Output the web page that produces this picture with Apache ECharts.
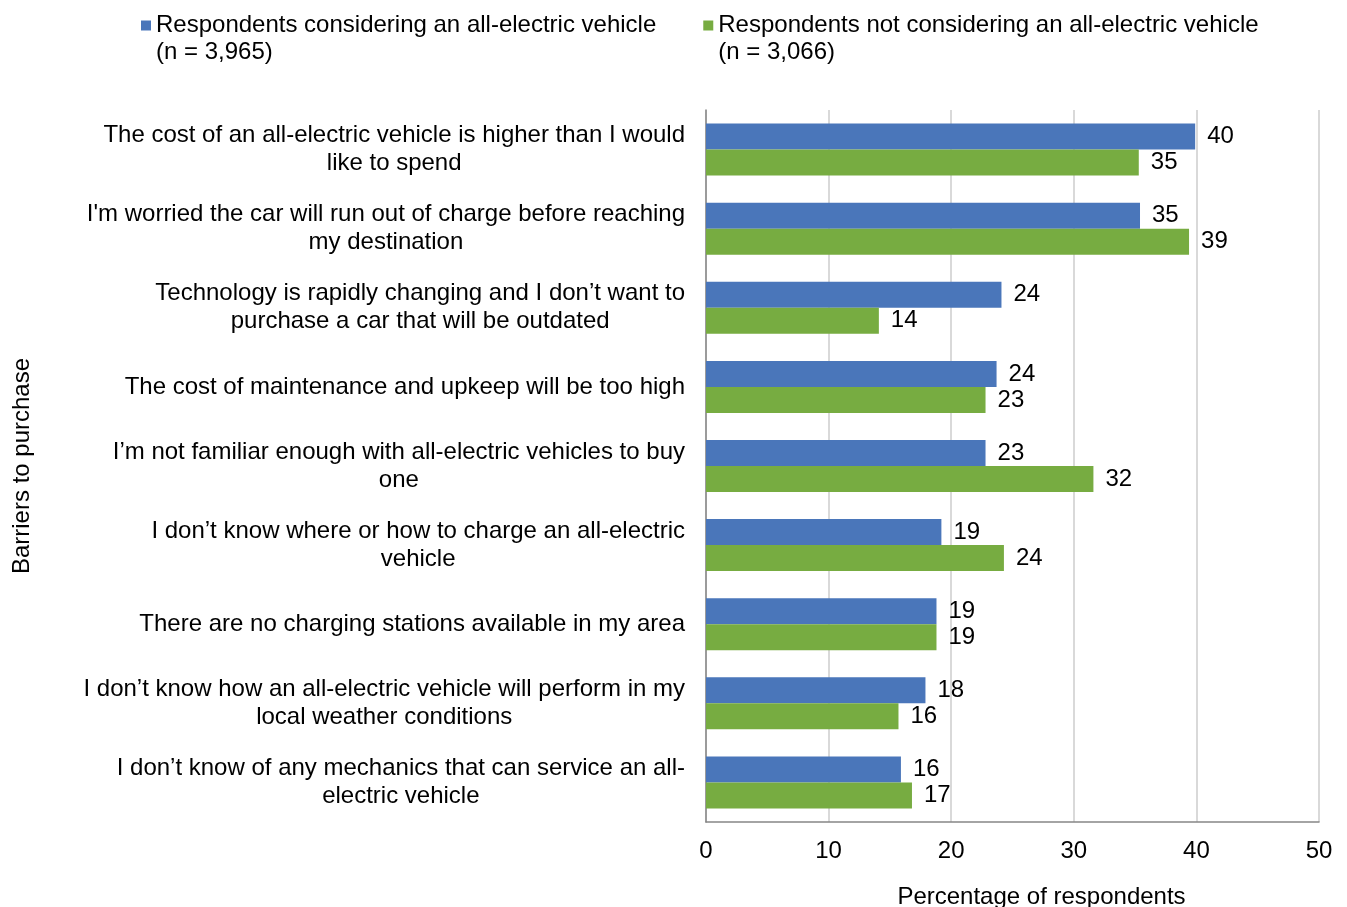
<!DOCTYPE html>
<html>
<head>
<meta charset="utf-8">
<script src="https://cdn.jsdelivr.net/npm/echarts@6/dist/echarts.min.js"></script>
<style>
  html, body { margin: 0; padding: 0; background: #fff; }
  #chart { width: 1347px; height: 907px; }
</style>
</head>
<body>
<div id="chart"></div>
<script>
// barriers, top to bottom
const categories = [
  'The cost of an all-electric vehicle is higher than I would\nlike to spend',
  "I'm worried the car will run out of charge before reaching\nmy destination",
  'Technology is rapidly changing and I don’t want to\npurchase a car that will be outdated',
  'The cost of maintenance and upkeep will be too high',
  'I’m not familiar enough with all-electric vehicles to buy\none',
  'I don’t know where or how to charge an all-electric\nvehicle',
  'There are no charging stations available in my area',
  'I don’t know how an all-electric vehicle will perform in my\nlocal weather conditions',
  'I don’t know of any mechanics that can service an all-\nelectric vehicle'
];
const seriesNames = [
  'Respondents considering an all-electric vehicle\n(n = 3,965)',
  'Respondents not considering an all-electric vehicle\n(n = 3,066)'
];
const considering = [39.9, 35.4, 24.1, 23.7, 22.8, 19.2, 18.8, 17.9, 15.9];
const notConsidering = [35.3, 39.4, 14.1, 22.8, 31.6, 24.3, 18.8, 15.7, 16.8];
const xTicks = [0, 10, 20, 30, 40, 50];

const FONT = '"Liberation Sans", Arial, sans-serif';
const FS = 24;
const colors = ['#4a76ba', '#77ac41'];

const chart = echarts.init(document.getElementById('chart'));

function barSeries(name, data, color) {
  return {
    name: name,
    type: 'bar',
    data: data,
    barWidth: 26,
    barGap: '0%',
    itemStyle: { color: color },
    label: {
      show: true,
      position: 'right',
      distance: 12,
      color: '#000',
      fontSize: FS,
      fontFamily: FONT,
      formatter: p => Math.round(p.value)
    }
  };
}

chart.setOption({
  animation: false,
  textStyle: { fontFamily: FONT },
  legend: {
    left: 141,
    top: -15,
    padding: 0,
    itemWidth: 10,
    itemHeight: 10,
    itemGap: 47,
    icon: 'rect',
    data: seriesNames,
    // empty first line so the icon sits beside the first text line
    formatter: name => '\n' + name,
    textStyle: {
      fontSize: FS,
      lineHeight: 27,
      color: '#000',
      fontFamily: FONT
    }
  },
  grid: { left: 706, right: 28, top: 110, bottom: 85, outerBoundsMode: 'none' },
  xAxis: {
    type: 'value',
    min: xTicks[0],
    max: xTicks[xTicks.length - 1],
    interval: 10,
    name: 'Percentage of respondents',
    nameLocation: 'middle',
    nameGap: 63,
    nameTextStyle: { fontSize: FS, color: '#000', fontFamily: FONT, padding: [0, 0, 0, 58] },
    axisLine: { show: true, lineStyle: { color: '#868686', width: 1.5 } },
    axisTick: { show: false },
    axisLabel: { fontSize: FS, color: '#000', margin: 17, fontFamily: FONT },
    splitLine: { show: true, lineStyle: { color: '#d9d9d9', width: 2 } }
  },
  yAxis: {
    type: 'category',
    inverse: true,
    data: categories,
    name: 'Barriers to purchase',
    nameLocation: 'middle',
    nameGap: 672,
    nameTextStyle: { fontSize: FS, color: '#000', fontFamily: FONT },
    axisLine: { show: true, lineStyle: { color: '#868686', width: 1.5 } },
    axisTick: { show: false },
    axisLabel: {
      margin: 21,
      align: 'right',
      formatter: v => v.split('\n').map(l => '{c|' + l + '}').join('\n'),
      rich: {
        c: { align: 'center', fontSize: FS, lineHeight: 28, color: '#000', fontFamily: FONT }
      }
    }
  },
  series: [
    barSeries(seriesNames[0], considering, colors[0]),
    barSeries(seriesNames[1], notConsidering, colors[1])
  ]
});

window.addEventListener('resize', () => chart.resize());
</script>
</body>
</html>
